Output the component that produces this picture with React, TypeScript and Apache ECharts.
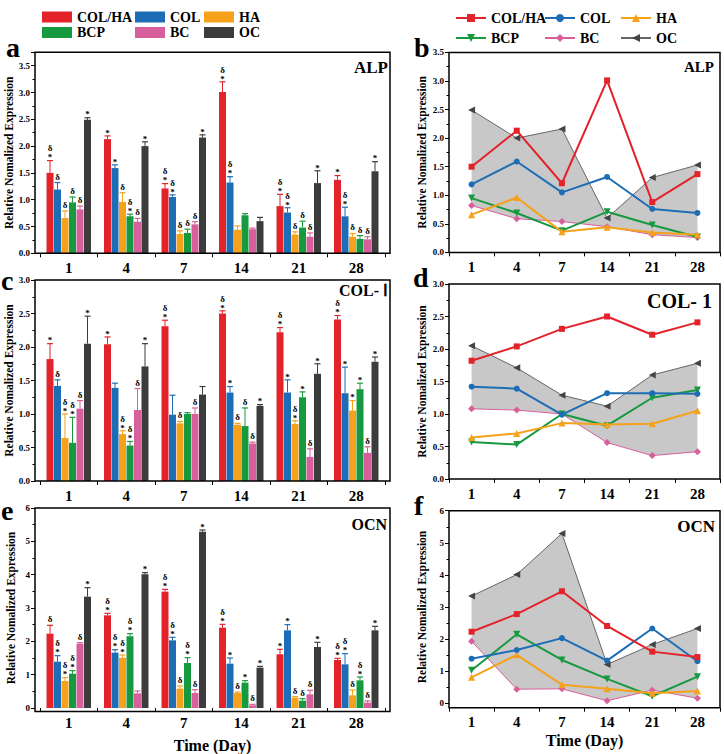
import React, { useEffect, useRef } from "react";
import * as echarts from "echarts";

const days = ["1", "4", "7", "14", "21", "28"];
const groupNames = ["COL/HA", "COL", "HA", "BCP", "BC", "OC"];
const groupColors = ["#e3222a", "#1c6db5", "#f5a11c", "#17993f", "#d65f9c", "#3c3c3c"];

// ALP
const alpColHa = [1.5, 2.13, 1.21, 3.01, 0.88, 1.37];
const alpCol = [1.19, 1.59, 1.05, 1.32, 0.76, 0.69];
const alpHa = [0.66, 0.96, 0.36, 0.44, 0.35, 0.31];
const alpBcp = [0.95, 0.69, 0.38, 0.71, 0.48, 0.27];
const alpBc = [0.82, 0.59, 0.54, 0.45, 0.31, 0.26];
const alpOc = [2.49, 2.0, 2.16, 0.6, 1.31, 1.53];
const alpColHaErr = [0.23, 0.06, 0.09, 0.19, 0.22, 0.08];
const alpColErr = [0.13, 0.06, 0.04, 0.11, 0.09, 0.17];
const alpHaErr = [0.13, 0.17, 0.06, 0.07, 0.05, 0.06];
const alpBcpErr = [0.1, 0.04, 0.07, 0.03, 0.12, 0.06];
const alpBcErr = [0.06, 0.06, 0.05, 0.02, 0.07, 0.05];
const alpOcErr = [0.04, 0.08, 0.05, 0.07, 0.23, 0.18];
const alpColHaMark = ["δ*", "*", "δ*", "δ*", "δ*", "*"];
const alpColMark = ["δ", "*", "δ*", "δ*", "δ*", "δ*"];
const alpHaMark = ["δ", "δ", "δ", "", "δ", "δ"];
const alpBcpMark = ["δ", "δ*", "δ", "", "δ", "δ"];
const alpBcMark = ["δ", "δ", "δ", "", "δ", "δ"];
const alpOcMark = ["*", "*", "*", "", "*", "*"];

// COL-I
const colColHa = [1.82, 2.04, 2.31, 2.5, 2.22, 2.41];
const colCol = [1.42, 1.39, 0.99, 1.32, 1.32, 1.31];
const colHa = [0.64, 0.7, 0.86, 0.84, 0.85, 1.05];
const colBcp = [0.57, 0.53, 1.0, 0.82, 1.25, 1.37];
const colBc = [1.08, 1.06, 1.0, 0.56, 0.36, 0.42];
const colOc = [2.05, 1.71, 1.29, 1.12, 1.6, 1.78];
const colColHaErr = [0.23, 0.11, 0.09, 0.04, 0.07, 0.06];
const colColErr = [0.09, 0.07, 0.29, 0.09, 0.19, 0.39];
const colHaErr = [0.36, 0.05, 0.03, 0.02, 0.05, 0.15];
const colBcpErr = [0.38, 0.06, 0.02, 0.27, 0.08, 0.09];
const colBcErr = [0.12, 0.32, 0.09, 0.02, 0.12, 0.09];
const colOcErr = [0.41, 0.34, 0.12, 0.02, 0.15, 0.07];
const colColHaMark = ["*", "*", "δ*", "δ*", "δ*", "δ*"];
const colColMark = ["δ", "", "", "*", "*", "*"];
const colHaMark = ["δ*", "δ*", "δ", "δ", "δ*", "*"];
const colBcpMark = ["δ*", "δ*", "", "δ", "*", "*"];
const colBcMark = ["δ", "δ", "δ", "δ", "δ", "δ"];
const colOcMark = ["*", "*", "", "*", "*", "*"];

// OCN
const ocnColHa = [2.23, 2.78, 3.49, 2.41, 1.61, 1.44];
const ocnCol = [1.39, 1.66, 2.03, 1.33, 2.33, 1.31];
const ocnHa = [0.81, 1.51, 0.58, 0.45, 0.31, 0.38];
const ocnBcp = [1.03, 2.15, 1.35, 0.76, 0.22, 0.83];
const ocnBc = [1.93, 0.44, 0.45, 0.08, 0.41, 0.16];
const ocnOc = [3.34, 4.01, 5.29, 1.21, 1.83, 2.33];
const ocnColHaErr = [0.25, 0.06, 0.07, 0.1, 0.15, 0.05];
const ocnColErr = [0.18, 0.09, 0.09, 0.17, 0.17, 0.32];
const ocnHaErr = [0.1, 0.08, 0.08, 0.03, 0.03, 0.16];
const ocnBcpErr = [0.09, 0.08, 0.16, 0.06, 0.06, 0.1];
const ocnBcErr = [0.03, 0.07, 0.1, 0.03, 0.12, 0.05];
const ocnOcErr = [0.27, 0.05, 0.05, 0.04, 0.14, 0.12];
const ocnColHaMark = ["δ", "δ*", "δ*", "δ*", "*", "δ*"];
const ocnColMark = ["δ*", "δ*", "δ*", "*", "*", "δ*"];
const ocnHaMark = ["δ*", "δ*", "δ", "δ", "δ", "δ"];
const ocnBcpMark = ["δ*", "δ*", "δ*", "*", "δ", "δ*"];
const ocnBcMark = ["δ", "", "δ", "δ", "δ", "δ"];
const ocnOcMark = ["*", "*", "*", "*", "*", "*"];

const yName = "Relative Nomalized Expression";
const xName = "Time (Day)";

const SERIF = '"Liberation Serif", "Times New Roman", serif';
const STEP = 7.5;

function buildOption() {
  const genes = [
    {
      vals: [alpColHa, alpCol, alpHa, alpBcp, alpBc, alpOc],
      errs: [alpColHaErr, alpColErr, alpHaErr, alpBcpErr, alpBcErr, alpOcErr],
      marks: [alpColHaMark, alpColMark, alpHaMark, alpBcpMark, alpBcMark, alpOcMark],
    },
    {
      vals: [colColHa, colCol, colHa, colBcp, colBc, colOc],
      errs: [colColHaErr, colColErr, colHaErr, colBcpErr, colBcErr, colOcErr],
      marks: [colColHaMark, colColMark, colHaMark, colBcpMark, colBcMark, colOcMark],
    },
    {
      vals: [ocnColHa, ocnCol, ocnHa, ocnBcp, ocnBc, ocnOc],
      errs: [ocnColHaErr, ocnColErr, ocnHaErr, ocnBcpErr, ocnBcErr, ocnOcErr],
      marks: [ocnColHaMark, ocnColMark, ocnHaMark, ocnBcpMark, ocnBcMark, ocnOcMark],
    },
  ];

  const barGrids = [
    { top: 52.3, height: 201, max: 3.75, interval: 0.5, dec: 1, hideMax: true },
    { top: 280, height: 201, max: 3, interval: 0.5, dec: 1, hideMax: false },
    { top: 508, height: 203.5, max: 6, interval: 1, dec: 0, hideMax: false },
  ];
  const lineGrids = [
    { top: 52.4, height: 200, max: 3.5, interval: 0.5, dec: 1, off: 0 },
    { top: 284, height: 195, max: 3, interval: 0.5, dec: 1, off: 0 },
    { top: 510.7, height: 192.6, max: 6, interval: 1, dec: 0, off: 4.4 },
  ];

  const grid: any[] = [];
  const xAxis: any[] = [];
  const yAxis: any[] = [];
  const series: any[] = [];
  const graphic: any[] = [];

  const labelStyle = { fontFamily: SERIF, fontWeight: "bold", color: "#000" };
  const nameStyle = { fontFamily: SERIF, fontWeight: "bold", fontSize: 11.5, color: "#000" };

  const mkY = (gi: number, g: any, offset: number, nameGap: number, hideMax: boolean) => ({
    gridIndex: gi,
    type: "value",
    min: 0,
    max: g.max,
    interval: g.interval,
    offset,
    axisLine: { show: false },
    axisTick: { show: true, length: 4, lineStyle: { color: "#000", width: 1 } },
    minorTick: { show: true, splitNumber: 2, length: 2.5, lineStyle: { color: "#000", width: 1 } },
    splitLine: { show: false },
    axisLabel: {
      ...labelStyle,
      fontSize: 9,
      margin: 5,
      showMaxLabel: !hideMax,
      formatter: (v: number) => v.toFixed(g.dec),
    },
    name: yName,
    nameLocation: "middle",
    nameGap,
    nameTextStyle: nameStyle,
  });

  const mkX = (gi: number, offset: number, withName: boolean, nameGap: number) => ({
    gridIndex: gi,
    type: "category",
    data: days,
    offset,
    axisLine: { show: false, onZero: false },
    axisTick: { show: true, length: 4, interval: 0, lineStyle: { color: "#000", width: 1 } },
    axisLabel: { ...labelStyle, fontSize: 15, margin: 7, interval: 0 },
    name: withName ? xName : "",
    nameLocation: "middle",
    nameGap,
    nameTextStyle: { fontFamily: SERIF, fontWeight: "bold", fontSize: 16, color: "#000" },
  });

  // bar grids
  barGrids.forEach((g, gi) => {
    grid.push({ left: 40, width: 345, top: g.top, height: g.height });
    xAxis.push(mkX(gi, 0, gi === 2, 29));
    yAxis.push(mkY(gi, g, 5, 18, g.hideMax));
    graphic.push({
      type: "rect",
      z: 100,
      shape: { x: 35, y: g.top, width: 355, height: g.height },
      style: { fill: "none", stroke: "#000", lineWidth: 1.5 },
    });
    const gene = genes[gi];
    gene.vals.forEach((vals, s) => {
      series.push({
        type: "bar",
        name: groupNames[s],
        xAxisIndex: gi,
        yAxisIndex: gi,
        data: vals,
        barWidth: 7,
        barGap: "7.1%",
        itemStyle: { color: groupColors[s] },
        z: 2,
      });
    });
    const items: any[] = [];
    for (let s = 0; s < 6; s++) {
      for (let d = 0; d < 6; d++) {
        items.push({ s, d, v: gene.vals[s][d], e: gene.errs[s][d], m: gene.marks[s][d] });
      }
    }
    series.push({
      type: "custom",
      xAxisIndex: gi,
      yAxisIndex: gi,
      z: 10,
      clip: false,
      silent: true,
      data: items.map((it) => [it.d, it.v + it.e]),
      renderItem: (params: any, api: any) => {
        const it = items[params.dataIndex];
        const base = api.coord([it.d, it.v]);
        const top = api.coord([it.d, it.v + it.e]);
        const x = base[0] + (it.s - 2.5) * STEP;
        const col = groupColors[it.s];
        const ty = top[1];
        const children: any[] = [
          { type: "line", shape: { x1: x, y1: base[1], x2: x, y2: ty }, style: { stroke: col, lineWidth: 1 } },
          { type: "line", shape: { x1: x - 3, y1: ty, x2: x + 3, y2: ty }, style: { stroke: col, lineWidth: 1.2 } },
        ];
        const m: string = it.m;
        const mk = (ch: string, y: number) => ({
          type: "text",
          x,
          y,
          style: {
            text: ch,
            fill: "#000",
            font: `bold 9px ${SERIF}`,
            align: "center",
            verticalAlign: "middle",
            textAlign: "center",
            textVerticalAlign: "middle",
          },
        });
        if (m === "δ*") {
          children.push(mk("*", ty - 3.2));
          children.push(mk("δ", ty - 12.2));
        } else if (m === "*") {
          children.push(mk("*", ty - 3.2));
        } else if (m === "δ") {
          children.push(mk("δ", ty - 6));
        }
        return { type: "group", children };
      },
    });
  });

  // line grids
  const symbols = [
    { symbol: "rect", size: 6, rotate: 0 },
    { symbol: "circle", size: 6, rotate: 0 },
    { symbol: "triangle", size: 7, rotate: 0 },
    { symbol: "triangle", size: 7, rotate: 180 },
    { symbol: "diamond", size: 7, rotate: 0 },
    { symbol: "triangle", size: 7, rotate: 90 },
  ];
  lineGrids.forEach((g, li) => {
    const gi = li + 3;
    grid.push({ left: 449, width: 271, top: g.top, height: g.height });
    xAxis.push(mkX(gi, g.off, li === 2, 29 - g.off));
    yAxis.push(mkY(gi, g, 0, 21, false));
    graphic.push({
      type: "rect",
      z: 100,
      shape: { x: 449, y: g.top, width: 271, height: g.height + g.off },
      style: { fill: "none", stroke: "#000", lineWidth: 1.5 },
    });
    const gene = genes[li];
    const bc = gene.vals[4];
    const oc = gene.vals[5];
    series.push({
      type: "line",
      xAxisIndex: gi,
      yAxisIndex: gi,
      stack: "band" + li,
      data: bc,
      symbol: "none",
      lineStyle: { width: 0, opacity: 0 },
      silent: true,
      z: 1,
    });
    series.push({
      type: "line",
      xAxisIndex: gi,
      yAxisIndex: gi,
      stack: "band" + li,
      data: oc.map((v, i) => v - bc[i]),
      symbol: "none",
      lineStyle: { width: 0, opacity: 0 },
      areaStyle: { color: "#c8c8c8", opacity: 1 },
      silent: true,
      z: 1,
    });
    gene.vals.forEach((vals, s) => {
      const isOc = s === 5;
      const isBc = s === 4;
      series.push({
        type: "line",
        name: "L-" + groupNames[s],
        xAxisIndex: gi,
        yAxisIndex: gi,
        data: vals,
        symbol: symbols[s].symbol,
        symbolSize: symbols[s].size,
        symbolRotate: symbols[s].rotate,
        itemStyle: { color: isOc ? "#444444" : groupColors[s] },
        lineStyle: { color: isOc ? "#666666" : groupColors[s], width: isOc || isBc ? 1 : 2 },
        z: 3 + (5 - s) * 0.1,
      });
    });
  });

  // panel letters
  const letters = [
    { t: "a", x: 6, y: 47.5 },
    { t: "b", x: 414, y: 47.5 },
    { t: "c", x: 1, y: 280.5 },
    { t: "d", x: 413, y: 277.5 },
    { t: "e", x: 1, y: 510.5 },
    { t: "f", x: 414, y: 505.5 },
  ];
  letters.forEach((l) => {
    graphic.push({
      type: "text",
      x: l.x,
      y: l.y,
      z: 100,
      style: {
        text: l.t,
        fill: "#000",
        font: `bold 28px ${SERIF}`,
        align: "left",
        verticalAlign: "middle",
        textAlign: "left",
        textVerticalAlign: "middle",
      },
    });
  });
  const titles = [
    { t: "ALP", x: 388, y: 67, s: 17 },
    { t: "ALP", x: 714, y: 67, s: 15 },
    { t: "COL- Ⅰ", x: 388, y: 290, s: 16 },
    { t: "COL- 1", x: 712, y: 301, s: 20 },
    { t: "OCN", x: 387, y: 524, s: 16 },
    { t: "OCN", x: 715, y: 526, s: 17 },
  ];
  titles.forEach((l) => {
    graphic.push({
      type: "text",
      x: l.x,
      y: l.y,
      z: 100,
      style: {
        text: l.t,
        fill: "#000",
        font: `bold ${l.s}px ${SERIF}`,
        align: "right",
        verticalAlign: "middle",
        textAlign: "right",
        textVerticalAlign: "middle",
      },
    });
  });

  const legTextStyle = { fontFamily: SERIF, fontWeight: "bold", fontSize: 14, color: "#000" };
  const legend: any[] = [];
  const leftCols = [
    { data: ["COL/HA", "BCP"], left: 37 },
    { data: ["COL", "BC"], left: 130 },
    { data: ["HA", "OC"], left: 199 },
  ];
  leftCols.forEach((c) => {
    legend.push({
      data: c.data,
      orient: "vertical",
      left: c.left,
      top: 5,
      itemWidth: 30,
      itemHeight: 11,
      itemGap: 1.5,
      icon: "rect",
      selectedMode: false,
      textStyle: legTextStyle,
    });
  });
  const rightCols = [
    { data: ["L-COL/HA", "L-BCP"], left: 450 },
    { data: ["L-COL", "L-BC"], left: 539 },
    { data: ["L-HA", "L-OC"], left: 615 },
  ];
  rightCols.forEach((c) => {
    legend.push({
      data: c.data,
      orient: "vertical",
      left: c.left,
      top: 6,
      itemWidth: 30,
      itemHeight: 10,
      itemGap: 6,
      selectedMode: false,
      formatter: (n: string) => n.slice(2),
      textStyle: legTextStyle,
    });
  });

  return {
    animation: false,
    backgroundColor: "#ffffff",
    grid,
    xAxis,
    yAxis,
    series,
    legend,
    graphic,
  };
}

export default function App() {
  const ref = useRef<HTMLDivElement>(null);
  useEffect(() => {
    const chart = echarts.init(ref.current!, null, { renderer: "svg" });
    chart.setOption(buildOption() as any);
    return () => chart.dispose();
  }, []);
  return (
    <div
      ref={ref}
      style={{ position: "fixed", left: 0, top: 0, width: 724, height: 754, background: "#fff" }}
    />
  );
}
